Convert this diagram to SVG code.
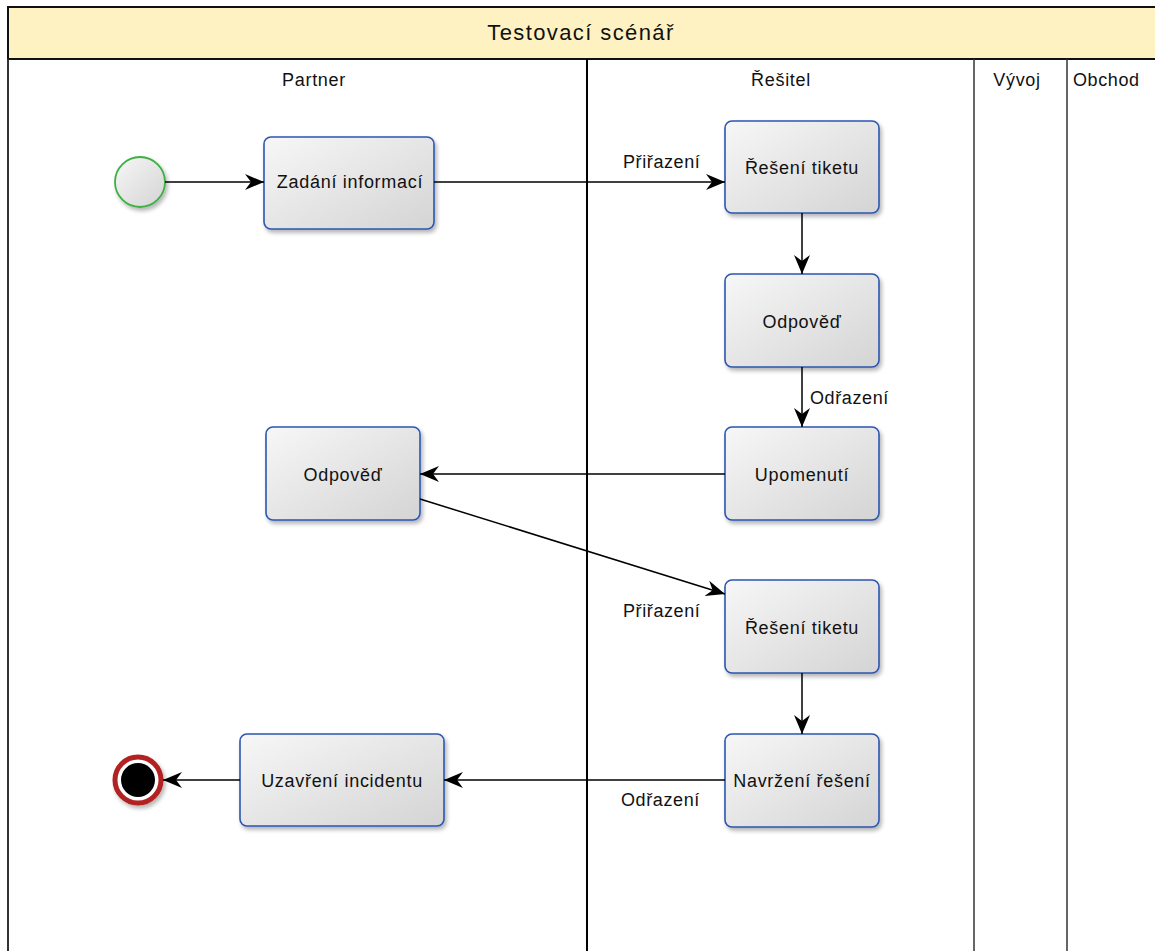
<svg xmlns="http://www.w3.org/2000/svg" width="1155" height="951" viewBox="0 0 1155 951">
<defs>
<linearGradient id="g" x1="0" y1="0" x2="1" y2="1">
<stop offset="0" stop-color="#f7f7f7"/>
<stop offset="1" stop-color="#d4d4d4"/>
</linearGradient>
<filter id="sh" x="-10%" y="-10%" width="130%" height="130%">
<feGaussianBlur in="SourceAlpha" stdDeviation="2"/>
<feOffset dx="2" dy="3" result="b"/>
<feComponentTransfer><feFuncA type="linear" slope="0.3"/></feComponentTransfer>
<feMerge><feMergeNode/><feMergeNode in="SourceGraphic"/></feMerge>
</filter>
<marker id="arr" markerUnits="userSpaceOnUse" markerWidth="22" markerHeight="18" refX="19" refY="9" orient="auto">
<path d="M0,1 L19,9 L0,17 L6,9 z" fill="#000"/>
</marker>
<style>
.task rect{fill:url(#g);stroke:#2d55b0;stroke-width:1.6;filter:url(#sh)}
.t{font-family:"Liberation Sans",Arial,sans-serif;font-size:18px;letter-spacing:0.7px;fill:#111;text-anchor:middle}
.lbl{font-family:"Liberation Sans",Arial,sans-serif;font-size:18px;letter-spacing:0.6px;fill:#111}
.conn path{fill:none;stroke:#000;stroke-width:1.5;marker-end:url(#arr)}
</style>
</defs>
<rect width="1155" height="951" fill="#fff"/>
<g id="pool">
<rect x="8" y="7" width="1160" height="52" fill="#fff2c2" stroke="#111" stroke-width="2"/>
<line x1="8" y1="59" x2="8" y2="960" stroke="#333" stroke-width="2"/>
<line x1="587" y1="59" x2="587" y2="960" stroke="#000" stroke-width="2"/>
<line x1="974" y1="59" x2="974" y2="960" stroke="#333" stroke-width="1.5"/>
<line x1="1067" y1="59" x2="1067" y2="960" stroke="#333" stroke-width="1.5"/>
<text x="581" y="40" style="font-family:'Liberation Sans',Arial,sans-serif;font-size:22px;letter-spacing:1.4px;fill:#111;text-anchor:middle">Testovací scénář</text>
<text class="t" x="314" y="86">Partner</text>
<text class="t" x="781" y="86">Řešitel</text>
<text class="t" x="1017" y="86">Vývoj</text>
<text class="lbl" x="1073" y="86">Obchod</text>
</g>
<g id="start"><circle cx="140" cy="182" r="25" fill="url(#g)" stroke="#3cb043" stroke-width="1.8" filter="url(#sh)"/></g>
<g id="end">
<circle cx="138" cy="780" r="23" fill="#fff" stroke="#b22222" stroke-width="5" filter="url(#sh)"/>
<circle cx="138" cy="780" r="17" fill="#000"/>
</g>
<g id="zadani" class="task"><rect x="264" y="137" width="170" height="92" rx="7"/><text class="t" x="350" y="188">Zadání informací</text></g>
<g id="reseni1" class="task"><rect x="725" y="121" width="154" height="92" rx="7"/><text class="t" x="802" y="174">Řešení tiketu</text></g>
<g id="odpoved1" class="task"><rect x="725" y="274" width="154" height="93" rx="7"/><text class="t" x="802" y="328">Odpověď</text></g>
<g id="upomenuti" class="task"><rect x="725" y="427" width="154" height="93" rx="7"/><text class="t" x="802" y="481">Upomenutí</text></g>
<g id="odpoved2" class="task"><rect x="266" y="427" width="154" height="93" rx="7"/><text class="t" x="343" y="481">Odpověď</text></g>
<g id="reseni2" class="task"><rect x="725" y="580" width="154" height="93" rx="7"/><text class="t" x="802" y="634">Řešení tiketu</text></g>
<g id="navrzeni" class="task"><rect x="725" y="734" width="154" height="93" rx="7"/><text class="t" x="802" y="787">Navržení řešení</text></g>
<g id="uzavreni" class="task"><rect x="240" y="734" width="204" height="92" rx="7"/><text class="t" x="342" y="787">Uzavření incidentu</text></g>
<g id="connectors" class="conn">
<path d="M165,182 L264,182"/>
<path d="M434,182 L725,182"/>
<path d="M802,213 L802,274"/>
<path d="M802,367 L802,427"/>
<path d="M725,474 L420,474"/>
<path d="M420,499 L725,594"/>
<path d="M802,673 L802,734"/>
<path d="M725,780 L444,780"/>
<path d="M240,780 L163,780"/>
</g>
<g id="labels">
<text class="lbl" x="623" y="168">Přiřazení</text>
<text class="lbl" x="810" y="404">Odřazení</text>
<text class="lbl" x="623" y="617">Přiřazení</text>
<text class="lbl" x="621" y="806">Odřazení</text>
</g>
</svg>
